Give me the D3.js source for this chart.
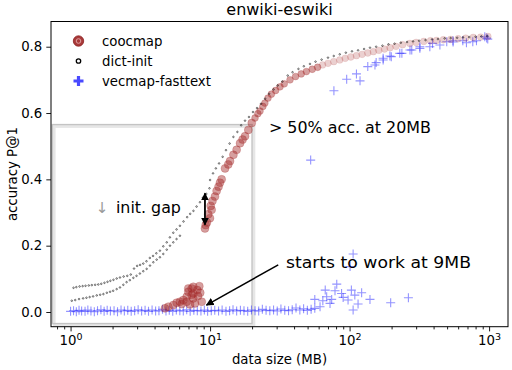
<!DOCTYPE html>
<html>
<head>
<meta charset="utf-8">
<script src="https://cdn.jsdelivr.net/npm/d3@7"></script>
<style>
  body { margin: 0; background: #fff; }
  svg { display: block; }
  text { font-family: "DejaVu Sans", sans-serif; }
</style>
</head>
<body>
<div id="chart"></div>
<script>
// ---- data ----
var title = "enwiki-eswiki";
var seriesNames = ["coocmap", "dict-init", "vecmap-fasttext"];
var xTicks = [1, 10, 100, 1000];
var yTicks = [0, 0.2, 0.4, 0.6, 0.8];

// coocmap: data size (MB) / accuracy
var coocMB = [4.75, 5.02, 5.45, 5.76, 6.08, 6.27, 6.43, 6.80, 6.80, 6.98, 6.98, 7.18, 7.38, 7.38, 7.58, 7.58, 7.58, 7.79, 8.1, 8.2, 8.37, 8.5, 8.71,
  9.19, 9.3, 9.5, 9.98, 9.7, 10.26, 10.1, 10.4, 10.84, 11.14, 11.5, 11.77, 12.1, 12.8, 13.5, 13.9, 14.7, 15.5, 16.4, 17.1, 17.8, 18.8, 19.9,
  21.0, 22.0, 22.8, 23.9, 24.7, 26.0, 27.5, 29.5, 31.7, 34.0, 37.4, 41, 45, 49, 54, 59, 64, 70, 77, 85, 93, 102, 112, 123, 135, 148, 162,
  178, 195, 215, 240, 270, 300, 340, 380, 420, 470, 530, 600, 680, 770, 870, 980];
var coocAcc = [0.011, 0.016, 0.021, 0.028, 0.031, 0.024, 0.036, 0.046, 0.031, 0.061, 0.071, 0.023, 0.071, 0.051, 0.056, 0.076, 0.041, 0.026, 0.066, 0.048, 0.078, 0.058, 0.031,
  0.252, 0.262, 0.27, 0.283, 0.295, 0.308, 0.32, 0.335, 0.348, 0.365, 0.378, 0.39, 0.40, 0.433, 0.445, 0.455, 0.474, 0.489, 0.509, 0.52, 0.53, 0.549, 0.57,
  0.585, 0.598, 0.606, 0.62, 0.63, 0.645, 0.657, 0.668, 0.679, 0.688, 0.70, 0.71, 0.718, 0.725, 0.732, 0.738, 0.745, 0.75, 0.755, 0.76, 0.765, 0.769, 0.773, 0.777, 0.781, 0.785, 0.789,
  0.793, 0.797, 0.801, 0.806, 0.81, 0.813, 0.816, 0.818, 0.819, 0.821, 0.822, 0.824, 0.826, 0.828, 0.829, 0.831];

// dict-init (two runs at small sizes, merging above ~9MB)
var dictMB = [1.05, 1.10, 1.16, 1.22, 1.28, 1.35, 1.42, 1.50, 1.58, 1.66, 1.75, 1.84, 1.93, 2.03, 2.14, 2.26, 2.40, 2.55, 2.70, 2.85, 3.00, 3.15, 3.32, 3.50, 3.70, 3.90, 4.12, 4.37, 4.62, 4.89, 5.15, 5.45, 5.75, 6.08, 6.45, 6.85, 7.2, 7.6, 8.0, 8.46, 8.9, 9.4, 9.9,
  1.02, 1.08, 1.15, 1.23, 1.30, 1.37, 1.45, 1.54, 1.63, 1.72, 1.82, 1.92, 2.02, 2.14, 2.26, 2.39, 2.52, 2.66, 2.82, 2.97, 3.14, 3.32, 3.51, 3.71, 3.92, 4.14, 4.37, 4.62, 4.89, 5.16, 5.45, 5.75, 6.08,
  10.0, 10.5, 11.0, 11.6, 12.3, 13.0, 13.8, 14.7, 15.7, 16.7, 17.8, 19.0, 20.3, 21.7, 23.2, 24.8, 26.5, 28.5, 30.5, 33, 36, 39, 43, 47, 52, 57, 63, 70, 77, 85, 94, 104, 115, 127, 140, 155, 172, 190, 210, 233, 258, 285, 315, 350, 390, 430, 480, 530, 590, 650, 720, 800, 880, 970];
var dictAcc = [0.070, 0.072, 0.074, 0.075, 0.076, 0.077, 0.078, 0.079, 0.080, 0.082, 0.085, 0.088, 0.091, 0.094, 0.098, 0.101, 0.104, 0.106, 0.110, 0.128, 0.136, 0.139, 0.143, 0.150, 0.160, 0.166, 0.174, 0.182, 0.195, 0.207, 0.222, 0.236, 0.246, 0.257, 0.270, 0.283, 0.293, 0.302, 0.315, 0.328, 0.342, 0.353, 0.370,
  0.031, 0.033, 0.036, 0.038, 0.040, 0.042, 0.044, 0.047, 0.049, 0.051, 0.055, 0.058, 0.061, 0.066, 0.071, 0.079, 0.087, 0.093, 0.100, 0.106, 0.113, 0.120, 0.127, 0.137, 0.147, 0.155, 0.162, 0.172, 0.185, 0.197, 0.207, 0.217, 0.227,
  0.395, 0.415, 0.43, 0.445, 0.465, 0.485, 0.505, 0.525, 0.54, 0.56, 0.574, 0.585, 0.60, 0.612, 0.625, 0.64, 0.655, 0.668, 0.68, 0.692, 0.71, 0.72, 0.73, 0.738, 0.745, 0.752, 0.758, 0.764, 0.769, 0.774, 0.779, 0.783, 0.786, 0.79, 0.794, 0.797, 0.80, 0.804, 0.806, 0.809, 0.811, 0.813, 0.815, 0.817, 0.819, 0.82, 0.822, 0.823, 0.824, 0.825, 0.826, 0.827, 0.828, 0.829];

// vecmap-fasttext
var vecMB = [1.0, 1.05, 1.1, 1.15, 1.2, 1.27, 1.33, 1.4, 1.48, 1.56, 1.65, 1.74, 1.83, 1.93, 2.05, 2.17, 2.3, 2.43, 2.57, 2.72, 2.88, 3.05, 3.23, 3.42, 3.62, 3.84, 4.07, 4.3, 4.56, 4.83,
  5.1, 5.4, 5.73, 6.07, 6.43, 6.8, 7.2, 7.65, 8.1, 8.6, 9.1, 9.6, 10.2, 10.8, 11.5, 12.2, 13.0, 13.8, 14.6, 15.5, 16.5, 17.5, 18.6, 19.8, 21, 22.3, 23.7, 25.2, 26.8, 28.5,
  30.3, 32.2, 34.3, 36.5, 38.8, 41.3, 44, 46.8, 49.8, 53,
  56.3, 64.3, 66.9, 68.5, 72.4, 74.4, 80.9, 78.6, 87.6, 89.9, 97.5, 103, 106, 109, 115, 122, 140, 197, 264, 61.4, 56.3, 100.8, 106, 52.6,
  77.2, 95.3, 112, 118.8, 135, 152, 155, 174, 174, 194.5, 199, 229, 237, 271, 279, 319, 319, 376, 393, 444, 497, 551, 552, 648, 688, 764, 812, 931, 960, 978];
var vecAcc = [0.002, 0.004, 0.001, 0.005, 0.003, 0.002, 0.006, 0.003, 0.001, 0.004, 0.007, 0.002, 0.005, 0.003, 0.004, 0.001, 0.006, 0.003, 0.005, 0.002, 0.004, 0.007, 0.003, 0.005, 0.002, 0.006, 0.003, 0.004, 0.008, 0.003,
  0.005, 0.002, 0.006, 0.004, 0.003, 0.007, 0.002, 0.005, 0.004, 0.003, 0.006, 0.002, 0.004, 0.005, 0.003, 0.006, 0.002, 0.004, 0.007, 0.003, 0.005, 0.004, 0.002, 0.006, 0.004, 0.003, 0.008, 0.005, 0.004, 0.006,
  0.003, 0.009, 0.005, 0.004, 0.007, 0.012, 0.006, 0.010, 0.005, 0.008,
  0.038, 0.034, 0.066, 0.046, 0.026, 0.038, 0.084, 0.064, 0.056, 0.044, 0.036, 0.066, 0.006, 0.051, 0.024, 0.058, 0.038, 0.028, 0.043, 0.016, 0.011, 0.137, 0.175, 0.458,
  0.667, 0.702, 0.718, 0.697, 0.74, 0.745, 0.752, 0.76, 0.765, 0.772, 0.77, 0.78, 0.78, 0.79, 0.79, 0.795, 0.80, 0.80, 0.81, 0.805, 0.815, 0.818, 0.814, 0.818, 0.812, 0.815, 0.818, 0.83, 0.826, 0.823];

function zip(a, b) { return a.map(function (v, i) { return { mb: v, acc: b[i] }; }); }
var cooc = zip(coocMB, coocAcc), dict = zip(dictMB, dictAcc), vec = zip(vecMB, vecAcc);

// ---- chart ----
var W = 512, H = 370;
var svg = d3.select("#chart").append("svg").attr("width", W).attr("height", H);

var x = d3.scaleLog().domain([0.724, 1366]).range([51, 508]);
var y = d3.scaleLinear().domain([-0.0443, 0.876]).range([326.7, 21.5]);

var defs = svg.append("defs");
defs.append("clipPath").attr("id", "clip").append("rect")
  .attr("x", 51).attr("y", 21.5).attr("width", 457).attr("height", 305.2);
defs.append("marker").attr("id", "head").attr("viewBox", "0 0 10 10")
  .attr("refX", 9).attr("refY", 5).attr("markerWidth", 8).attr("markerHeight", 8)
  .attr("markerUnits", "userSpaceOnUse").attr("orient", "auto-start-reverse")
  .append("path").attr("d", "M0,0L10,5L0,10z").attr("fill", "#000");
defs.append("marker").attr("id", "head2").attr("viewBox", "0 0 10 10")
  .attr("refX", 9).attr("refY", 5).attr("markerWidth", 8).attr("markerHeight", 8)
  .attr("markerUnits", "userSpaceOnUse").attr("orient", "auto-start-reverse")
  .append("path").attr("d", "M0,0L10,5L0,10z").attr("fill", "#000");

var plot = svg.append("g").attr("clip-path", "url(#clip)");

// highlight box (with soft shadow)
var bx0 = x(0.74), bx1 = x(20), by0 = y(0.565), by1 = y(-0.035);
plot.append("rect").attr("x", bx0 + 2).attr("y", by0 + 2).attr("width", bx1 - bx0).attr("height", by1 - by0)
  .attr("fill", "none").attr("stroke", "#e6e6e6").attr("stroke-width", 2.5);
plot.append("rect").attr("x", bx0).attr("y", by0).attr("width", bx1 - bx0).attr("height", by1 - by0)
  .attr("fill", "none").attr("stroke", "#c4c4c4").attr("stroke-width", 1.5);

// vecmap-fasttext crosses
plot.selectAll(".vec").data(vec).enter().append("path")
  .attr("class", "vec")
  .attr("d", function (d) { var cx = x(d.mb), cy = y(d.acc); return "M" + (cx - 4.5) + "," + cy + "h9M" + cx + "," + (cy - 4.5) + "v9"; })
  .attr("stroke", "#2a2aff").attr("stroke-opacity", 0.5).attr("stroke-width", 1.1).attr("fill", "none");

// coocmap circles
plot.selectAll(".cooc").data(cooc).enter().append("circle")
  .attr("class", "cooc")
  .attr("cx", function (d) { return x(d.mb); })
  .attr("cy", function (d) { return y(d.acc); })
  .attr("r", function (d) { return d.mb < 20 ? 4 : 3.4; })
  .attr("fill", "#a52a2a")
  .attr("fill-opacity", function (d) { return d.mb < 60 ? 0.45 : 0.22; })
  .attr("stroke", "#a52a2a")
  .attr("stroke-opacity", function (d) { return d.mb < 60 ? 0.3 : 0.12; })
  .attr("stroke-width", 0.8);

// dict-init dots
plot.selectAll(".dict").data(dict).enter().append("circle")
  .attr("class", "dict")
  .attr("cx", function (d) { return x(d.mb); })
  .attr("cy", function (d) { return y(d.acc) - 1; })
  .attr("r", 0.8)
  .attr("fill", "none").attr("stroke", "#000").attr("stroke-opacity", 0.65).attr("stroke-width", 0.8);

// frame
svg.append("rect").attr("x", 51).attr("y", 21.5).attr("width", 457).attr("height", 305.2)
  .attr("fill", "none").attr("stroke", "#000").attr("stroke-width", 1);

// axes
var minor = [];
[0.1, 1, 10, 100, 1000].forEach(function (p) { for (var k = 2; k <= 9; k++) { var v = p * k; if (v > 0.724 && v < 1366) minor.push(v); } });

var xAx = svg.append("g").attr("transform", "translate(0,326.7)")
  .call(d3.axisBottom(x).tickValues(xTicks).tickSize(4.7).tickPadding(4).tickFormat(function () { return "10"; }));
xAx.call(function (g) { g.select(".domain").remove(); });
xAx.selectAll(".tick text").attr("font-size", 13.3).attr("font-family", "DejaVu Sans").attr("fill", "#000")
  .each(function (d) {
    d3.select(this).append("tspan").attr("dy", "-0.55em").attr("font-size", 9.5).text(Math.round(Math.log10(d)));
  });
svg.append("g").attr("transform", "translate(0,326.7)")
  .call(d3.axisBottom(x).tickValues(minor).tickSize(2.7).tickFormat(""))
  .call(function (g) { g.select(".domain").remove(); });

var yAx = svg.append("g").attr("transform", "translate(51,0)")
  .call(d3.axisLeft(y).tickValues(yTicks).tickSize(4.7).tickPadding(4).tickFormat(d3.format(".1f")));
yAx.call(function (g) { g.select(".domain").remove(); });
yAx.selectAll(".tick text").attr("font-size", 13.3).attr("font-family", "DejaVu Sans").attr("fill", "#000");
svg.selectAll(".tick line").attr("stroke", "#000").attr("stroke-width", 0.9);

// labels
svg.append("text").attr("x", 279.5).attr("y", 15).attr("text-anchor", "middle")
  .attr("font-size", 16).text(title);
svg.append("text").attr("x", 279.5).attr("y", 364).attr("text-anchor", "middle")
  .attr("font-size", 13.3).text("data size (MB)");
svg.append("text").attr("transform", "translate(17,174.1) rotate(-90)").attr("text-anchor", "middle")
  .attr("font-size", 13.3).text("accuracy P@1");

// legend
var leg = svg.append("g");
var ly = [41, 61, 81];
leg.append("circle").attr("cx", 78.5).attr("cy", ly[0]).attr("r", 5.2).attr("fill", "#a83a3a").attr("stroke", "#8c2020").attr("stroke-width", 0.8);
leg.append("circle").attr("cx", 78.5).attr("cy", ly[0]).attr("r", 2.3).attr("fill", "none").attr("stroke", "#e0a0a0").attr("stroke-width", 1);
leg.append("circle").attr("cx", 78.5).attr("cy", ly[1]).attr("r", 2.2).attr("fill", "#fff").attr("stroke", "#000").attr("stroke-width", 1.3);
leg.append("path").attr("d", "M" + 73.5 + "," + ly[2] + "h10M" + 78.5 + "," + (ly[2] - 5) + "v10")
  .attr("stroke", "#4a4aff").attr("stroke-width", 3.2).attr("fill", "none");
leg.selectAll(".lt").data(seriesNames).enter().append("text")
  .attr("x", 102).attr("y", function (d, i) { return ly[i]; }).attr("dy", "0.35em")
  .attr("font-size", 13.3).text(function (d) { return d; });

// annotations
var ann = svg.append("g");
ann.append("text").attr("x", x(26.4)).attr("y", y(0.555)).attr("dy", "0.35em")
  .attr("font-size", 15).attr("textLength", 162).attr("lengthAdjust", "spacingAndGlyphs")
  .text("> 50% acc. at 20MB");
ann.append("text").attr("x", x(35)).attr("y", y(0.148)).attr("dy", "0.35em")
  .attr("font-size", 15).attr("textLength", 185).attr("lengthAdjust", "spacingAndGlyphs")
  .text("starts to work at 9MB");
ann.append("text").attr("x", x(2.115)).attr("y", y(0.314)).attr("dy", "0.35em")
  .attr("font-size", 15).attr("textLength", 65).attr("lengthAdjust", "spacingAndGlyphs")
  .text("init. gap");
ann.append("text").attr("x", x(1.68)).attr("y", y(0.314)).attr("dy", "0.35em").attr("text-anchor", "middle")
  .attr("font-size", 15).attr("fill", "#999").text("\u2193");

ann.append("line").attr("x1", x(30.8)).attr("y1", y(0.142)).attr("x2", x(9.42)).attr("y2", y(0.021))
  .attr("stroke", "#000").attr("stroke-width", 1.5).attr("marker-end", "url(#head2)");
ann.append("line").attr("x1", x(9.19)).attr("y1", y(0.358)).attr("x2", x(9.19)).attr("y2", y(0.263))
  .attr("stroke", "#000").attr("stroke-width", 1.8)
  .attr("marker-start", "url(#head)").attr("marker-end", "url(#head)");
</script>
</body>
</html>
